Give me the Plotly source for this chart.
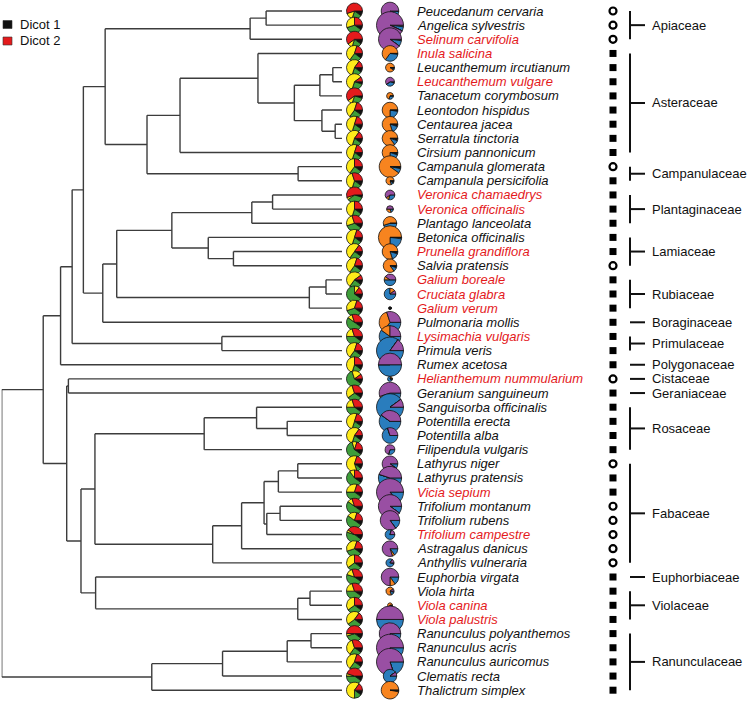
import plotly.graph_objects as go

W, H = 749, 703

# ---------------- data ----------------
species = [
    "Peucedanum cervaria", "Angelica sylvestris", "Selinum carvifolia", "Inula salicina",
    "Leucanthemum ircutianum", "Leucanthemum vulgare", "Tanacetum corymbosum", "Leontodon hispidus",
    "Centaurea jacea", "Serratula tinctoria", "Cirsium pannonicum", "Campanula glomerata",
    "Campanula persicifolia", "Veronica chamaedrys", "Veronica officinalis", "Plantago lanceolata",
    "Betonica officinalis", "Prunella grandiflora", "Salvia pratensis", "Galium boreale",
    "Cruciata glabra", "Galium verum", "Pulmonaria mollis", "Lysimachia vulgaris",
    "Primula veris", "Rumex acetosa", "Helianthemum nummularium", "Geranium sanguineum",
    "Sanguisorba officinalis", "Potentilla erecta", "Potentilla alba", "Filipendula vulgaris",
    "Lathyrus niger", "Lathyrus pratensis", "Vicia sepium", "Trifolium montanum",
    "Trifolium rubens", "Trifolium campestre", "Astragalus danicus", "Anthyllis vulneraria",
    "Euphorbia virgata", "Viola hirta", "Viola canina", "Viola palustris",
    "Ranunculus polyanthemos", "Ranunculus acris", "Ranunculus auricomus", "Clematis recta",
    "Thalictrum simplex",
]
dicot_group = [1, 1, 2, 2, 1, 2, 1, 1, 1, 1, 1, 1, 1, 2, 2, 1, 1, 2, 1, 2,
               2, 2, 1, 2, 1, 1, 2, 1, 1, 1, 1, 1, 1, 1, 2, 1, 1, 2, 1, 1,
               1, 1, 2, 2, 1, 1, 1, 1, 1]
trait_open = [1, 1, 1, 0, 0, 0, 0, 0, 0, 0, 0, 1, 0, 0, 0, 0, 0, 0, 1, 0,
              0, 0, 0, 0, 0, 0, 1, 0, 0, 0, 0, 0, 1, 0, 0, 1, 1, 1, 1, 1,
              0, 0, 0, 0, 0, 0, 0, 0, 0]
families = ["Apiaceae", "Asteraceae", "Campanulaceae", "Plantaginaceae", "Lamiaceae", "Rubiaceae",
            "Boraginaceae", "Primulaceae", "Polygonaceae", "Cistaceae", "Geraniaceae", "Rosaceae",
            "Fabaceae", "Euphorbiaceae", "Violaceae", "Ranunculaceae"]
family_first = [1, 4, 12, 14, 17, 20, 23, 24, 26, 27, 28, 29, 33, 41, 42, 45]
family_last = [3, 11, 13, 16, 19, 22, 23, 25, 26, 27, 28, 32, 40, 41, 44, 49]

# pie column 1 (fractions): red, yellow, green, black
p1_red = [.55, .25, .60, .20, .15, .10, .60, .20, .20, .15, .20, .25, .30, .55, .25, .30, .20, .15, .20, .10,
          .15, .20, .30, .30, .20, .25, .10, .30, .30, .20, .15, .20, .20, .25, .20, .30, .20, .40, .20, .25,
          .30, .30, .25, .15, .50, .30, .20, .45, .15]
p1_yellow = [.15, .30, .10, .45, .55, .60, .10, .45, .50, .55, .50, .40, .40, .05, .45, .25, .50, .50, .45, .55,
             .10, .35, .10, .20, .45, .45, .20, .30, .20, .50, .55, .10, .60, .10, .30, .10, .20, .05, .35, .35,
             .15, .20, .35, .45, .05, .35, .45, .05, .60]
p1_green = [.20, .35, .20, .25, .20, .25, .25, .25, .20, .20, .20, .25, .20, .35, .20, .35, .20, .25, .25, .25,
            .65, .35, .50, .40, .25, .20, .60, .30, .40, .20, .20, .60, .10, .55, .40, .50, .50, .45, .35, .30,
            .45, .40, .30, .30, .35, .25, .25, .40, .15]
p1_black = [.10, .10, .10, .10, .10, .05, .05, .10, .10, .10, .10, .10, .10, .05, .10, .10, .10, .10, .10, .10,
            .10, .10, .10, .10, .10, .10, .10, .10, .10, .10, .10, .10, .10, .10, .10, .10, .10, .10, .10, .10,
            .10, .10, .10, .10, .10, .10, .10, .10, .10]

# pie column 2 (fractions): purple, orange, blue, black ; relative size
p2_purple = [.92, .93, .90, .00, .00, .60, .00, .00, .00, .00, .00, .00, .00, .60, .50, .00, .00, .00, .00, .40,
             .10, .00, .30, .25, .15, .50, .00, .55, .10, .40, .30, .70, .90, .45, .85, .90, .85, .20, .80, .15,
             .75, .10, .00, .50, .80, .80, .80, .10, .00]
p2_orange = [.00, .00, .00, .65, .90, .00, .70, .75, .80, .85, .75, .90, .80, .10, .30, .55, .75, .80, .85, .10,
             .15, .00, .35, .15, .00, .00, .20, .05, .00, .00, .00, .00, .00, .00, .00, .00, .00, .00, .05, .00,
             .10, .70, .60, .00, .00, .00, .00, .00, .97]
p2_blue = [.07, .05, .08, .33, .05, .35, .30, .22, .15, .10, .20, .07, .10, .30, .20, .45, .23, .15, .10, .50,
           .75, .00, .35, .60, .85, .50, .80, .40, .90, .60, .70, .30, .10, .55, .15, .10, .15, .80, .15, .80,
           .15, .15, .30, .50, .20, .20, .20, .90, .00]
p2_black = [.01, .02, .02, .02, .05, .05, .00, .03, .05, .05, .05, .03, .10, .00, .00, .00, .02, .05, .05, .00,
            .00, 1.0, .00, .00, .00, .00, .00, .00, .00, .00, .00, .00, .00, .00, .00, .00, .00, .00, .00, .05,
            .00, .05, .10, .00, .00, .00, .00, .00, .03]
p2_size = [.65, 1.0, .85, .58, .33, .33, .25, .58, .58, .58, .58, .80, .30, .36, .25, .50, .86, .58, .50, .43,
           .43, .11, .80, .80, 1.0, .86, .18, .80, 1.0, .80, .58, .36, .58, .86, 1.0, .86, .72, .36, .58, .30,
           .65, .30, .18, 1.0, .80, 1.0, 1.0, .50, .65]


# phylogeny: (depth 0=root .. 1=tips, child, child); tips are 1-based row numbers
def N(d, a, b):
    return (d, a, b)


asteraceae = N(0.524,
               N(0.753, 4,
                 N(0.860,
                   N(0.935, N(0.973, 5, 6), 7),
                   N(0.941, 8, N(0.980, 9, 10)))),
               11)
tree = N(0.000,
         N(0.122,
           N(0.173,
             N(0.207,
               N(0.240,
                 N(0.304,
                   N(0.730, N(0.777, 1, 2), 3),
                   N(0.427, asteraceae, N(0.871, 12, 13))),
                 N(0.297,
                   N(0.338,
                     N(0.500,
                       N(0.735, N(0.796, 14, 15), 16),
                       N(0.607, 17, N(0.681, 18, 19))),
                     N(0.904, N(0.953, 20, 21), 22)),
                   23)),
               N(0.647, 24, 25)),
             26),
           N(0.191,
             N(0.196, 27, 28),
             N(0.233,
               N(0.274,
                 N(0.595, N(0.749, 29, N(0.839, 30, 31)), 32),
                 N(0.620,
                   N(0.705,
                     N(0.771,
                       N(0.813, N(0.870, 33, 34), 35),
                       N(0.779, N(0.818, 36, 37), 38)),
                     39),
                   40)),
               N(0.276, 41, N(0.870, N(0.906, 42, 43), 44))))),
         N(0.441, N(0.649, N(0.839, N(0.909, 45, 46), 47), 48), 49))

# ---------------- layout constants ----------------
ROW0, STEP = 11.0, 14.15       # pixel y of first row, spacing
Y_TOP = 1 - ROW0 / STEP
Y_BOT = 1 + (H - ROW0) / STEP
TREE_X0, TREE_X1 = 1.7, 342.0
PIE1_X, PIE1_D = 354.5, 16.0
PIE2_X, PIE2_DMAX = 390.0, 27.0
LABEL_X = 416
SYM_X = 613
BR_X, TICK_X, FAM_X = 630, 645, 651
RED = "#E41A1C"
C1 = [RED, "#FFEB1A", "#3E9E3A", "#111111"]
C2 = ["#994FA3", "#F7841F", "#2A7DBD", "#111111"]
FONT = "Liberation Sans, Arial, Helvetica, sans-serif"

fig = go.Figure()

# ---------------- tree ----------------
tx, ty = [], []


def walk(node):
    if isinstance(node, int):
        return float(node), 1.0
    d, a, b = node
    ya, da = walk(a)
    yb, db = walk(b)
    tx.extend([d, d, None, d, da, None, d, db, None])
    ty.extend([ya, yb, None, ya, ya, None, yb, yb, None])
    return (ya + yb) / 2, d


walk(tree)
fig.add_trace(go.Scatter(x=tx, y=ty, xaxis="x2", yaxis="y", mode="lines",
                         line=dict(color="#3c3c3c", width=1.4), hoverinfo="skip"))


# ---------------- pies ----------------
def row_px(r):
    return ROW0 + (r - 1) * STEP


def pie_domain(cx, cy, d):
    return dict(x=[(cx - d / 2) / W, (cx + d / 2) / W],
                y=[1 - (cy + d / 2) / H, 1 - (cy - d / 2) / H])


# slices start at 3 o'clock and run counter-clockwise in the listed order;
# drawn clockwise from 3 o'clock with the order reversed.
for i in range(len(species)):
    cy = row_px(i + 1)
    vals = [p1_red[i], p1_yellow[i], p1_green[i], p1_black[i]]
    fig.add_trace(go.Pie(
        values=vals[::-1], labels=["black", "green", "yellow", "red"],
        marker=dict(colors=C1[::-1], line=dict(color="#111111", width=0.8)),
        sort=False, direction="clockwise", rotation=90,
        textinfo="none", hoverinfo="none",
        domain=pie_domain(PIE1_X, cy, PIE1_D)))
for i in range(len(species)):
    cy = row_px(i + 1)
    vals = [p2_purple[i], p2_orange[i], p2_blue[i], p2_black[i]]
    fig.add_trace(go.Pie(
        values=vals[::-1], labels=["black", "blue", "orange", "purple"],
        marker=dict(colors=C2[::-1], line=dict(color="#111111", width=0.8)),
        sort=False, direction="clockwise", rotation=90,
        textinfo="none", hoverinfo="none",
        domain=pie_domain(PIE2_X, cy, PIE2_DMAX * p2_size[i])))

rows = list(range(1, len(species) + 1))

# ---------------- trait symbols ----------------
fig.add_trace(go.Scatter(
    x=[SYM_X] * len(rows), y=rows, mode="markers", xaxis="x", yaxis="y",
    marker=dict(symbol=["circle-open" if t else "square" for t in trait_open],
                size=7, color="#000000",
                line=dict(width=[2.2 if t else 0 for t in trait_open], color="#000000")),
    hoverinfo="skip", cliponaxis=False))

# ---------------- family brackets ----------------
bx, by = [], []
for f, a, b in zip(families, family_first, family_last):
    mid = (a + b) / 2
    if b > a:
        bx.extend([BR_X, BR_X, None])
        by.extend([a, b, None])
    bx.extend([BR_X, TICK_X, None])
    by.extend([mid, mid, None])
fig.add_trace(go.Scatter(x=bx, y=by, mode="lines", xaxis="x", yaxis="y",
                         line=dict(color="#111111", width=2), hoverinfo="skip"))

annotations = []
for f, a, b in zip(families, family_first, family_last):
    annotations.append(dict(x=FAM_X, y=(a + b) / 2, xref="x", yref="y", text=f,
                            showarrow=False, xanchor="left", yanchor="middle", borderpad=0,
                            font=dict(family=FONT, size=13, color="#111111")))

# ---------------- species labels ----------------
for i, s in enumerate(species):
    annotations.append(dict(x=LABEL_X, y=i + 1, xref="x", yref="y", text="<i>" + s + "</i>",
                            showarrow=False, xanchor="left", yanchor="middle", borderpad=0,
                            font=dict(family=FONT, size=13,
                                      color=RED if dicot_group[i] == 2 else "#111111")))

# ---------------- legend ----------------
legend_items = [("Dicot 1", "#111111"), ("Dicot 2", RED)]
shapes = []
for k, (lab, col) in enumerate(legend_items):
    yc = 24.5 + k * 16.5
    shapes.append(dict(type="rect", xref="paper", yref="paper",
                       x0=3 / W, x1=12 / W, y0=1 - (yc + 4) / H, y1=1 - (yc - 4) / H,
                       fillcolor=col, line=dict(color="#333333", width=0.6)))
    annotations.append(dict(x=19 / W, y=1 - yc / H, xref="paper", yref="paper", text=lab,
                            showarrow=False, xanchor="left", yanchor="middle", borderpad=0,
                            font=dict(family=FONT, size=13, color="#111111")))

fig.update_layout(
    width=W, height=H, margin=dict(l=0, r=0, t=0, b=0),
    paper_bgcolor="white", plot_bgcolor="white", showlegend=False,
    xaxis=dict(domain=[0, 1], range=[0, W], visible=False, fixedrange=True),
    xaxis2=dict(domain=[TREE_X0 / W, TREE_X1 / W], range=[0, 1], visible=False,
                anchor="y", fixedrange=True),
    yaxis=dict(domain=[0, 1], range=[Y_BOT, Y_TOP], visible=False, fixedrange=True),
    annotations=annotations, shapes=shapes,
)

fig.write_html("out.html", config={"displayModeBar": False},
               post_script="document.body.style.margin='0px';")
